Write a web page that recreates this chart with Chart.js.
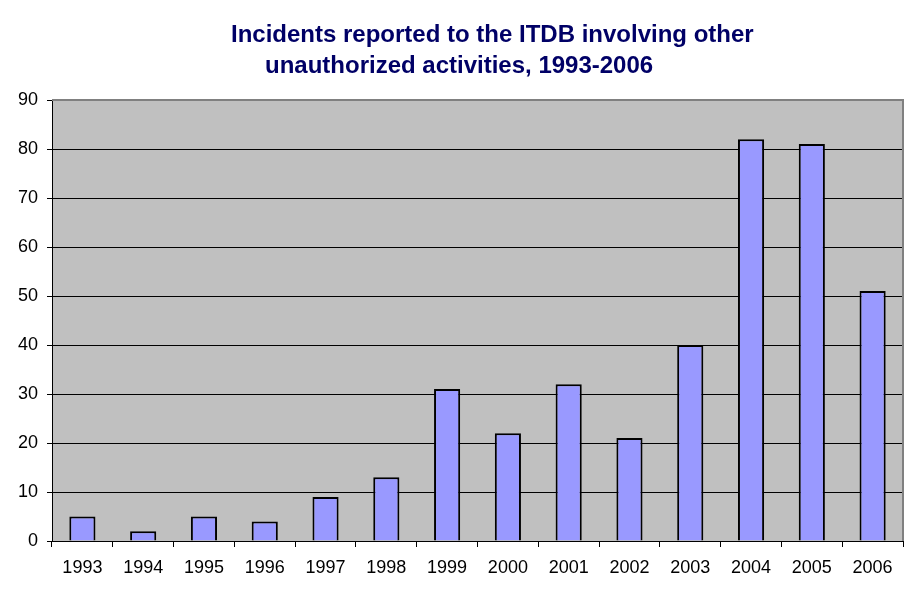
<!DOCTYPE html>
<html>
<head>
<meta charset="utf-8">
<script src="https://cdn.jsdelivr.net/npm/chart.js@4"></script>
<style>
html,body{margin:0;padding:0;background:#fff;}
#wrap{width:914px;height:601px;}
</style>
</head>
<body>
<div id="wrap"><canvas id="c" width="914" height="601"></canvas></div>
<script>
const titleLines = ["Incidents reported to the ITDB involving other", "unauthorized activities, 1993-2006"];
const categories = ["1993","1994","1995","1996","1997","1998","1999","2000","2001","2002","2003","2004","2005","2006"];
const incidents = [5, 2, 5, 4, 9, 13, 31, 22, 32, 21, 40, 82, 81, 51];
const yTicks = [0, 10, 20, 30, 40, 50, 60, 70, 80, 90];

const bgPlugin = {
  id: 'bg',
  beforeDraw(chart) {
    const {ctx, chartArea: a} = chart;
    ctx.save();
    ctx.fillStyle = '#C0C0C0';
    ctx.fillRect(a.left, a.top, a.right - a.left, a.bottom - a.top);
    ctx.restore();
  },
  afterDatasetsDraw(chart) {
    const {ctx, chartArea: a} = chart;
    ctx.save();
    ctx.strokeStyle = '#808080';
    ctx.lineWidth = 2;
    ctx.beginPath();
    ctx.moveTo(a.left, a.top);
    ctx.lineTo(a.right, a.top);
    ctx.lineTo(a.right, a.bottom);
    ctx.stroke();
    ctx.restore();
  }
};

const titlePlugin = {
  id: 'twoLineTitle',
  afterDraw(chart) {
    const ctx = chart.ctx;
    ctx.save();
    ctx.fillStyle = '#000066';
    ctx.font = 'bold 24px "Liberation Sans", Arial, sans-serif';
    ctx.textBaseline = 'alphabetic';
    ctx.textAlign = 'left';
    ctx.fillText(titleLines[0], 231, 42, 523);
    ctx.fillText(titleLines[1], 265, 73, 389);
    ctx.restore();
  }
};

new Chart(document.getElementById('c'), {
  type: 'bar',
  data: {
    labels: categories,
    datasets: [{
      data: incidents,
      backgroundColor: '#9999FF',
      borderColor: '#000000',
      borderWidth: 2,
      borderSkipped: 'bottom',
      categoryPercentage: 1.0,
      barPercentage: 0.43
    }]
  },
  options: {
    responsive: false,
    animation: false,
    devicePixelRatio: 1,
    layout: { padding: { top: 100, right: 11, left: 0, bottom: 0 } },
    plugins: { legend: { display: false }, title: { display: false }, tooltip: { enabled: false } },
    scales: {
      x: {
        afterFit(s) { s.height = 60; },
        grid: { offset: true, drawOnChartArea: false, tickLength: 6, color: '#000', tickColor: '#000' },
        border: { color: '#000', width: 1 },
        ticks: { color: '#000', font: { family: '"Liberation Sans", Arial, sans-serif', size: 18 }, padding: 10, maxRotation: 0, autoSkip: false }
      },
      y: {
        min: 0, max: 90,
        afterFit(s) { s.width = 52; },
        afterBuildTicks(s) { s.ticks = yTicks.map(v => ({value: v})); },
        grid: { color: (c) => c.tick && c.tick.value === 90 ? 'rgba(0,0,0,0)' : '#000', tickColor: '#000', tickLength: 5, lineWidth: 1 },
        border: { color: '#000', width: 1 },
        ticks: { color: '#000', font: { family: '"Liberation Sans", Arial, sans-serif', size: 18 }, padding: 9 }
      }
    }
  },
  plugins: [bgPlugin, titlePlugin]
});
</script>
</body>
</html>
